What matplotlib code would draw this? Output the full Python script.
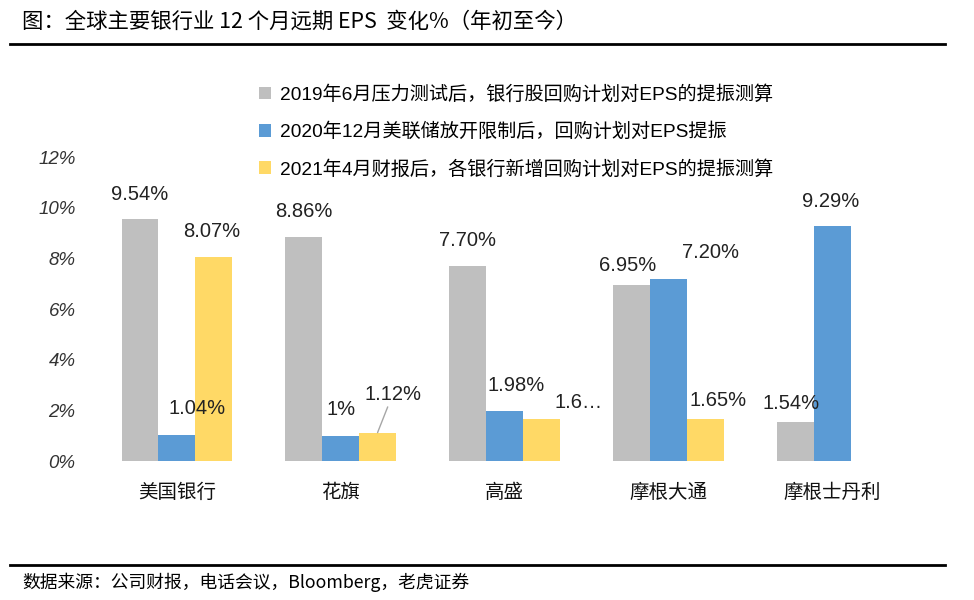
import matplotlib
matplotlib.use("Agg")
import matplotlib.pyplot as plt
import numpy as np
from matplotlib.patches import Patch
from matplotlib.lines import Line2D

categories = ["美国银行", "花旗", "高盛", "摩根大通", "摩根士丹利"]
series_names = [
    "2019年6月压力测试后，银行股回购计划对EPS的提振测算",
    "2020年12月美联储放开限制后，回购计划对EPS提振",
    "2021年4月财报后，各银行新增回购计划对EPS的提振测算",
]
vals_2019 = [9.54, 8.86, 7.70, 6.95, 1.54]
vals_2020 = [1.04, 1.00, 1.98, 7.20, 9.29]
vals_2021 = [8.07, 1.12, 1.65, 1.65, np.nan]
labels_2019 = ["9.54%", "8.86%", "7.70%", "6.95%", "1.54%"]
labels_2020 = ["1.04%", "1%", "1.98%", "7.20%", "9.29%"]
labels_2021 = ["8.07%", "1.12%", "1.6…", "1.65%", ""]
yticks = [0, 2, 4, 6, 8, 10, 12]
ytick_labels = ["0%", "2%", "4%", "6%", "8%", "10%", "12%"]
title = "图：全球主要银行业 12 个月远期 EPS  变化%（年初至今）"
source = "数据来源：公司财报，电话会议，Bloomberg，老虎证券"

colors = ["#BFBFBF", "#5B9BD5", "#FFD966"]
# label offsets in pixels (dx, dy) from bar top centre
offsets = [
    [(0, 25), (0, 25), (0, 25), (-4, 19), (-4, 18)],
    [(20, 26), (0, 26), (12, 25), (42, 26), (-1, 24)],
    [(-2, 25), (15, 38), (37, 17), (13, 19), (0, 0)],
]
leader = [[False] * 5, [False] * 5, [False, True, False, False, False]]

num_font = ["Liberation Sans", "Noto Sans CJK SC", "DejaVu Sans"]
cjk_font = ["Noto Sans CJK SC", "DejaVu Sans"]
plt.rcParams["font.family"] = cjk_font

fig = plt.figure(figsize=(9.74, 6.0), dpi=100)
ax = fig.add_axes([95 / 974, 1 - 461 / 600, 819 / 974, 304 / 600])

x = np.arange(len(categories))
w = 0.225
all_vals = [vals_2019, vals_2020, vals_2021]
all_labels = [labels_2019, labels_2020, labels_2021]
for i, (vals, labs) in enumerate(zip(all_vals, all_labels)):
    xs = x + (i - 1) * w
    ax.bar(xs, np.nan_to_num(vals), width=w, color=colors[i], linewidth=0)
    for j, (xv, v, lab) in enumerate(zip(xs, vals, labs)):
        if np.isnan(v) or not lab:
            continue
        dx, dy = offsets[i][j]
        kw = dict(xy=(xv, v), xytext=(dx, dy), textcoords="offset pixels",
                  ha="center", va="center", fontsize=14.5, family=num_font, color="#222222")
        if leader[i][j]:
            kw["arrowprops"] = dict(arrowstyle="-", color="#A6A6A6", lw=1,
                                    shrinkA=0, shrinkB=0)
        ax.annotate(lab, **kw)

ax.set_xlim(-0.5, len(categories) - 0.5)
ax.set_ylim(0, 12)
ax.set_yticks(yticks)
ax.set_yticklabels(ytick_labels, family=num_font, style="italic", fontsize=13.5, color="#333333")
ax.set_xticks(x)
ax.set_xticklabels(categories, fontsize=14, family=cjk_font, color="#111111")
ax.tick_params(axis="both", length=0)
ax.tick_params(axis="y", pad=14)
ax.tick_params(axis="x", pad=15)
for s in ax.spines.values():
    s.set_visible(False)

handles = [Patch(facecolor=c, edgecolor="none") for c in colors]
fig.legend(handles, series_names, loc="upper left", bbox_to_anchor=(259 / 974, 1 - 85 / 600),
           frameon=False, handlelength=0.65, handleheight=0.65,
           handletextpad=0.45, labelspacing=0.98, borderpad=0, borderaxespad=0,
           prop={"family": num_font, "size": 13.8})

fig.text(22 / 974, 1 - 22 / 600, title, fontsize=15.4, va="center", ha="left", family=cjk_font)
fig.text(22 / 974, 1 - 582 / 600, source, fontsize=12.8, va="center", ha="left", family=cjk_font)
fig.add_artist(Line2D([10 / 974, 945 / 974], [1 - 44 / 600] * 2, color="black", lw=2))
fig.add_artist(Line2D([10 / 974, 945 / 974], [1 - 565 / 600] * 2, color="black", lw=2))

fig.savefig("out.png", dpi=100)
